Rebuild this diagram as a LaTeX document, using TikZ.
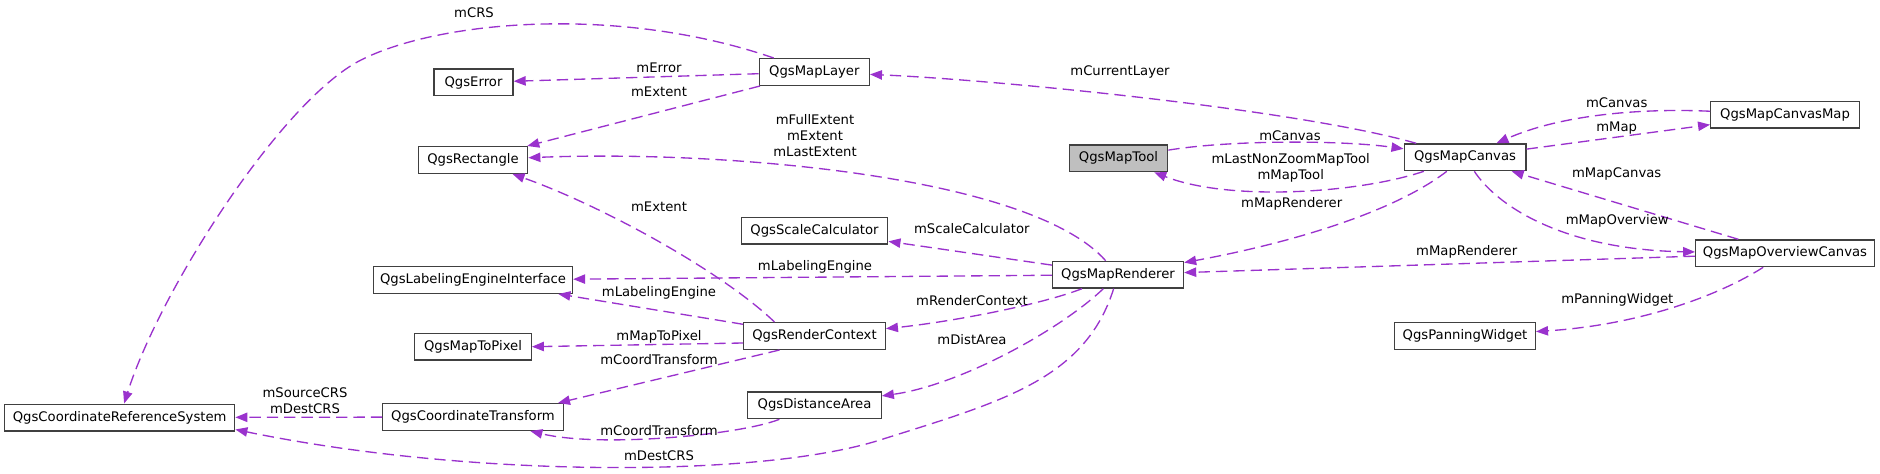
\documentclass[tikz,border=0pt]{standalone}
\usepackage{fontspec}
\setmainfont{DejaVu Sans}
\usetikzlibrary{arrows.meta}
\definecolor{edgepurple}{HTML}{9A32CD}
\definecolor{toolgray}{HTML}{BFBFBF}
\begin{document}
\begin{tikzpicture}[x=0.75pt,y=-0.75pt,
  cls/.style={draw=black!75, line width=1pt, fill=white, minimum height=20pt, inner sep=0pt,
              font=\fontsize{9.9}{12}\selectfont},
  lbl/.style={font=\fontsize{9.9}{12}\selectfont, inner sep=0pt, align=center},
  rel/.style={draw=edgepurple, line width=1pt, dash pattern=on 8.5pt off 4.5pt,
              -{Triangle[length=9pt,width=7pt]}}]
\useasboundingbox (0,0) rectangle (1880,474);

% classes
\node[cls, minimum width=230*0.75pt]   (crs)  at (119.7,417.5) {QgsCoordinateReferenceSystem};
\node[cls, minimum width=79*0.75pt]    (err)  at (473.5,82.5)  {QgsError};
\node[cls, minimum width=109.4*0.75pt] (rect) at (473,160)     {QgsRectangle};
\node[cls, minimum width=110*0.75pt]   (ml)   at (814.3,72)    {QgsMapLayer};
\node[cls, minimum width=199*0.75pt]   (lei)  at (473,280)     {QgsLabelingEngineInterface};
\node[cls, minimum width=116.5*0.75pt] (m2p)  at (473,346.7)   {QgsMapToPixel};
\node[cls, minimum width=180.4*0.75pt] (ct)   at (473,417)     {QgsCoordinateTransform};
\node[cls, minimum width=98.4*0.75pt, fill=toolgray] (mt) at (1118.5,158.3) {QgsMapTool};
\node[cls, minimum width=121.7*0.75pt] (mc)   at (1465,157.3)  {QgsMapCanvas};
\node[cls, minimum width=131*0.75pt]   (mr)   at (1118,274.7)  {QgsMapRenderer};
\node[cls, minimum width=146.6*0.75pt] (sc)   at (814.5,230.7) {QgsScaleCalculator};
\node[cls, minimum width=141.6*0.75pt] (rc)   at (814.5,336)   {QgsRenderContext};
\node[cls, minimum width=133.4*0.75pt] (da)   at (814.5,405.3) {QgsDistanceArea};
\node[cls, minimum width=148.6*0.75pt] (cm)   at (1785,114.7)  {QgsMapCanvasMap};
\node[cls, minimum width=178.6*0.75pt] (oc)   at (1785,253.3)  {QgsMapOverviewCanvas};
\node[cls, minimum width=140.7*0.75pt] (pw)   at (1465,336)    {QgsPanningWidget};

% waypoints
\coordinate (w1) at (361,60);
\coordinate (w2) at (880,440);

% connectors
\draw[rel] (ml) .. controls (620,5) and (440,20) .. (w1) .. controls (282,100) and (160,290) .. (crs);
\draw[rel] (ml) -- (err);
\draw[rel] (ml) -- (rect);
\draw[rel] (mr) .. controls (1030,175) and (720,150) .. (rect);
\draw[rel] ([shift={(-40,0)}]rc.north) .. controls (720,270) and (600,205) .. (rect);
\draw[rel] (mr) -- (sc);
\draw[rel] (mr) -- (lei);
\draw[rel] (rc) -- (lei);
\draw[rel] ([shift={(0,7)}]rc.west) -- (m2p.east);
\draw[rel] ([shift={(-35,0)}]rc.south) -- ([shift={(85,0)}]ct.north);
\draw[rel] (mr) .. controls (1040,305) and (950,322) .. (rc);
\draw[rel] (mr) .. controls (1060,330) and (960,385) .. (da);
\draw[rel] (da) .. controls (740,435) and (600,448) .. (ct);
\draw[rel] (mr) .. controls (1085,380) and (1000,402) .. (w2) .. controls (760,478) and (470,478) .. ([shift={(0,12)}]crs.east);
\draw[rel] (ct) -- (crs);
\draw[rel] (mc) .. controls (1300,110) and (1000,80) .. (ml);
\draw[rel] (mt) .. controls (1230,140) and (1340,140) .. (mc);
\draw[rel] (mc) .. controls (1360,193) and (1230,202) .. (mt);
\draw[rel] (mc) .. controls (1390,215) and (1280,245) .. (mr);
\draw[rel] (cm) .. controls (1640,108) and (1560,115) .. (mc);
\draw[rel] (mc) -- (cm);
\draw[rel] (oc) -- (mc);
\draw[rel] (mc) .. controls (1500,210) and (1570,250) .. (oc);
\draw[rel] (oc) -- (mr);
\draw[rel] (oc) .. controls (1720,295) and (1640,325) .. (pw);

% labels
\node[lbl] (l1)  at (474,12.7)    {mCRS};
\node[lbl] (l2)  at (659,67.7)    {mError};
\node[lbl] (l3)  at (659,91.7)    {mExtent};
\node[lbl] (l4)  at (815,135.7)   {mFullExtent\\mExtent\\mLastExtent};
\node[lbl] (l5)  at (659,206.7)   {mExtent};
\node[lbl] (l6)  at (971.8,228.7) {mScaleCalculator};
\node[lbl] (l7)  at (815,267.3)   {mLabelingEngine};
\node[lbl] (l8)  at (659,292.7)   {mLabelingEngine};
\node[lbl] (l9)  at (972,300.7)   {mRenderContext};
\node[lbl] (l10) at (659,336.7)   {mMapToPixel};
\node[lbl] (l11) at (972,340)     {mDistArea};
\node[lbl] (l12) at (659,360)     {mCoordTransform};
\node[lbl] (l13) at (305,400.3)   {mSourceCRS\\mDestCRS};
\node[lbl] (l14) at (659,430.7)   {mCoordTransform};
\node[lbl] (l15) at (659,455.7)   {mDestCRS};
\node[lbl] (l16) at (1120,72.3)   {mCurrentLayer};
\node[lbl] (l17) at (1290,135.7)  {mCanvas};
\node[lbl] (l18) at (1290.7,167.7) {mLastNonZoomMapTool\\mMapTool};
\node[lbl] (l19) at (1291.7,204.3) {mMapRenderer};
\node[lbl] (l20) at (1616.7,102.7) {mCanvas};
\node[lbl] (l21) at (1616.7,127.7) {mMap};
\node[lbl] (l22) at (1616.7,174.3) {mMapCanvas};
\node[lbl] (l23) at (1617.3,220.7) {mMapOverview};
\node[lbl] (l24) at (1466.7,252.3) {mMapRenderer};
\node[lbl] (l25) at (1617.3,300)   {mPanningWidget};
\end{tikzpicture}
\end{document}
